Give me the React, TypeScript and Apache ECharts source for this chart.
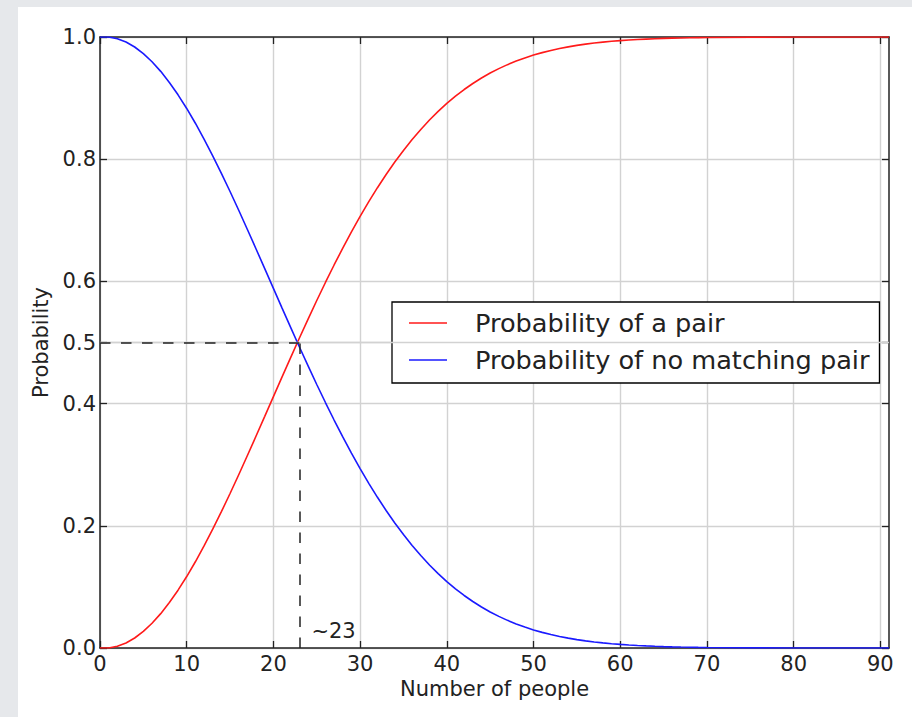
import React, { useEffect, useRef } from "react";
import * as echarts from "echarts";

// Number of people (x)
const people = [
  0, 1, 2, 3, 4, 5, 6, 7, 8, 9, 10, 11, 12, 13, 14, 15, 16, 17, 18, 19, 20,
  21, 22, 23, 24, 25, 26, 27, 28, 29, 30, 31, 32, 33, 34, 35, 36, 37, 38, 39, 40,
  41, 42, 43, 44, 45, 46, 47, 48, 49, 50, 51, 52, 53, 54, 55, 56, 57, 58, 59, 60,
  61, 62, 63, 64, 65, 66, 67, 68, 69, 70, 75, 80, 85, 90, 91,
];

// Probability of a pair
const probPair = [
  0, 0, 0.00274, 0.0082, 0.01636, 0.02714, 0.04046, 0.05624, 0.07434, 0.09462, 0.11695,
  0.14114, 0.16702, 0.19441, 0.2231, 0.2529, 0.2836, 0.31501, 0.34691, 0.37912, 0.41144,
  0.44369, 0.4757, 0.5073, 0.53834, 0.5687, 0.59824, 0.62686, 0.65446, 0.68097, 0.70632,
  0.73045, 0.75335, 0.77497, 0.79532, 0.81438, 0.83218, 0.84873, 0.86407, 0.87822, 0.89123,
  0.90315, 0.91403, 0.92392, 0.93289, 0.94098, 0.94825, 0.95477, 0.9606, 0.96578, 0.97037,
  0.97443, 0.978, 0.98114, 0.98388, 0.98626, 0.98833, 0.99012, 0.99166, 0.99299, 0.99412,
  0.99509, 0.99591, 0.9966, 0.99719, 0.99768, 0.9981, 0.99844, 0.99873, 0.99896, 0.99916,
  0.99972, 0.99991, 0.99998, 0.99999, 1.0,
];

// Probability of no matching pair
const probNoPair = [
  1, 1, 0.99726, 0.9918, 0.98364, 0.97286, 0.95954, 0.94376, 0.92566, 0.90538, 0.88305,
  0.85886, 0.83298, 0.80559, 0.7769, 0.7471, 0.7164, 0.68499, 0.65309, 0.62088, 0.58856,
  0.55631, 0.5243, 0.4927, 0.46166, 0.4313, 0.40176, 0.37314, 0.34554, 0.31903, 0.29368,
  0.26955, 0.24665, 0.22503, 0.20468, 0.18562, 0.16782, 0.15127, 0.13593, 0.12178, 0.10877,
  0.09685, 0.08597, 0.07608, 0.06711, 0.05902, 0.05175, 0.04523, 0.0394, 0.03422, 0.02963,
  0.02557, 0.022, 0.01886, 0.01612, 0.01374, 0.01167, 0.00988, 0.00833, 0.00701, 0.00588,
  0.00491, 0.00409, 0.0034, 0.00281, 0.00232, 0.0019, 0.00156, 0.00127, 0.00104, 0.00084,
  0.00028, 0.00009, 0.00002, 0.00001, 0.0,
];

const seriesNames = ["Probability of a pair", "Probability of no matching pair"];
const xTicks = [0, 10, 20, 30, 40, 50, 60, 70, 80, 90];
const yTicks = [0, 0.2, 0.4, 0.5, 0.6, 0.8, 1.0];
const crossingPeople = 23;
const crossingProb = 0.5;
const crossingLabel = "~23";
const xAxisName = "Number of people";
const yAxisName = "Probability";

const FONT = "DejaVu Sans";
const TXT = "#222";
const AXIS = "#222";
const GRID = "#d2d2d2";
const FS = 21;

export default function App() {
  const ref = useRef<HTMLDivElement>(null);

  useEffect(() => {
    if (!ref.current) return;
    const chart = echarts.init(ref.current, null, { renderer: "svg" });

    const pairData = people.map((n, i) => [n, probPair[i]]);
    const noPairData = people.map((n, i) => [n, probNoPair[i]]);

    const axisLine = { show: true, onZero: false, lineStyle: { color: AXIS, width: 1.5 } };
    const tickStyle = { lineStyle: { color: AXIS, width: 1.3 } };

    const option: any = {
      animation: false,
      backgroundColor: "#ffffff",
      textStyle: { fontFamily: FONT },
      grid: { left: 82, top: 30, right: 23, bottom: 69, containLabel: false },
      legend: {
        data: seriesNames,
        orient: "vertical",
        left: 374,
        top: 295,
        icon: "rect",
        itemWidth: 38,
        itemHeight: 1.6,
        itemGap: 7,
        padding: [6, 10, 8, 17],
        backgroundColor: "#ffffff",
        borderColor: "#000000",
        borderWidth: 1.3,
        borderRadius: 0,
        selectedMode: false,
        textStyle: {
          fontFamily: FONT,
          fontSize: 25.6,
          color: TXT,
          lineHeight: 30,
          padding: [0, 0, 0, 23],
        },
      },
      xAxis: [
        {
          type: "value",
          position: "bottom",
          min: 0,
          max: 91,
          interval: 10,
          name: xAxisName,
          nameLocation: "middle",
          nameGap: 29,
          nameTextStyle: { fontFamily: FONT, fontSize: FS, color: TXT },
          axisLine,
          axisTick: { show: true, inside: true, length: 7, customValues: xTicks, ...tickStyle },
          axisLabel: {
            show: true,
            customValues: xTicks,
            fontFamily: FONT,
            fontSize: FS,
            color: TXT,
            margin: 5,
            formatter: (v: number) => String(v),
          },
          splitLine: { show: true, lineStyle: { color: GRID, width: 1.4 } },
        },
        {
          type: "value",
          position: "top",
          min: 0,
          max: 91,
          interval: 10,
          axisLine,
          axisTick: { show: true, inside: true, length: 7, customValues: xTicks, ...tickStyle },
          axisLabel: { show: false },
          splitLine: { show: false },
        },
      ],
      yAxis: [
        {
          type: "value",
          position: "left",
          min: 0,
          max: 1,
          interval: 0.2,
          name: yAxisName,
          nameLocation: "middle",
          nameGap: 42,
          nameTextStyle: { fontFamily: FONT, fontSize: FS, color: TXT },
          axisLine,
          axisTick: { show: true, inside: true, length: 7, customValues: yTicks, ...tickStyle },
          axisLabel: {
            show: true,
            customValues: yTicks,
            fontFamily: FONT,
            fontSize: FS,
            color: TXT,
            margin: 4,
            formatter: (v: number) => v.toFixed(1),
          },
          splitLine: { show: true, lineStyle: { color: GRID, width: 1.4 } },
        },
        {
          type: "value",
          position: "right",
          min: 0,
          max: 1,
          interval: 0.2,
          axisLine,
          axisTick: { show: true, inside: true, length: 7, customValues: yTicks, ...tickStyle },
          axisLabel: { show: false },
          splitLine: { show: false },
        },
      ],
      series: [
        {
          name: "grid-0.5",
          type: "line",
          data: [],
          z: 1,
          silent: true,
          markLine: {
            silent: true,
            symbol: "none",
            label: { show: false },
            lineStyle: { color: GRID, width: 1.4, type: "solid" },
            data: [{ yAxis: crossingProb }],
          },
        },
        {
          name: seriesNames[0],
          type: "line",
          data: pairData,
          showSymbol: false,
          symbol: "none",
          z: 3,
          lineStyle: { color: "#ff1a1a", width: 1.6 },
          itemStyle: { color: "#ff1a1a" },
        },
        {
          name: seriesNames[1],
          type: "line",
          data: noPairData,
          showSymbol: false,
          symbol: "none",
          z: 3,
          lineStyle: { color: "#1a1aff", width: 1.6 },
          itemStyle: { color: "#1a1aff" },
        },
        {
          name: "crossing",
          type: "line",
          data: [],
          z: 4,
          silent: true,
          markLine: {
            silent: true,
            symbol: "none",
            label: { show: false },
            lineStyle: { color: "#222", width: 1.5, type: [10.5, 10.5] },
            data: [
              [{ coord: [0, crossingProb] }, { coord: [crossingPeople, crossingProb] }],
              [{ coord: [crossingPeople, 0] }, { coord: [crossingPeople, crossingProb] }],
            ],
          },
          markPoint: {
            silent: true,
            symbol: "circle",
            symbolSize: 0,
            data: [{ coord: [crossingPeople, 0] }],
            label: {
              show: true,
              position: "right",
              distance: 5,
              offset: [7, -17],
              formatter: crossingLabel,
              fontFamily: FONT,
              fontSize: FS,
              color: TXT,
            },
          },
        },
      ],
    };

    chart.setOption(option);
    return () => chart.dispose();
  }, []);

  return (
    <div
      style={{
        position: "fixed",
        left: 0,
        top: 0,
        width: 912,
        height: 717,
        background: "#e6e8eb",
        overflow: "hidden",
      }}
    >
      <div
        ref={ref}
        style={{ position: "absolute", left: 18, top: 7, width: 894, height: 710, background: "#ffffff" }}
      />
    </div>
  );
}
